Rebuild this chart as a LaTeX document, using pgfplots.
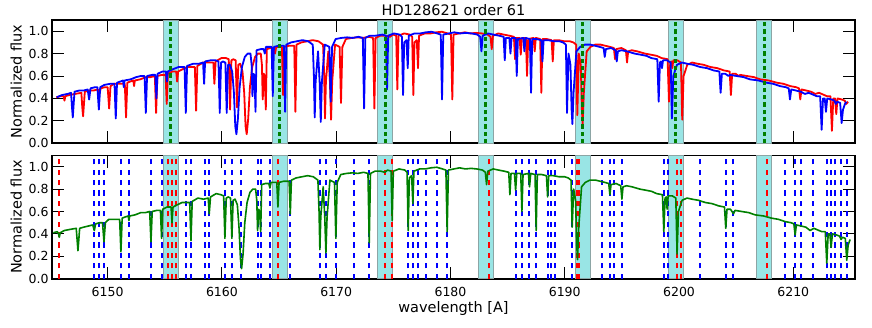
\documentclass[border=0pt]{standalone}
\usepackage{pgfplots}
\pgfplotsset{compat=1.18}
\usepackage{pgfplotstable}
\usepackage{fontspec}
\setmainfont{DejaVu Sans}

\definecolor{mblue}{RGB}{0,0,255}
\definecolor{mred}{RGB}{255,0,0}
\definecolor{mgreen}{RGB}{0,128,0}
\definecolor{band}{RGB}{153,229,229}
\definecolor{bandedge}{RGB}{140,165,165}

% spectrum, first observation (blue)
\pgfplotstableread{
x y
6145.55 0.41
6146.00 0.43
6146.50 0.44
6146.80 0.45
6146.88 0.32
6146.95 0.23
6147.02 0.34
6147.10 0.46
6147.50 0.47
6147.90 0.47
6148.25 0.48
6148.38 0.39
6148.50 0.49
6148.90 0.50
6149.10 0.50
6149.23 0.30
6149.35 0.50
6149.70 0.52
6150.20 0.53
6150.60 0.53
6150.71 0.22
6150.82 0.54
6151.10 0.55
6151.35 0.56
6151.41 0.50
6151.48 0.56
6152.00 0.57
6152.50 0.59
6152.90 0.60
6153.23 0.60
6153.34 0.27
6153.45 0.60
6153.90 0.61
6154.17 0.61
6154.27 0.40
6154.37 0.62
6154.80 0.64
6155.10 0.64
6155.18 0.55
6155.26 0.64
6155.70 0.66
6156.20 0.68
6156.73 0.68
6156.84 0.27
6156.95 0.69
6157.50 0.71
6158.00 0.71
6158.35 0.72
6158.44 0.53
6158.53 0.73
6159.00 0.74
6159.45 0.74
6159.70 0.73
6159.81 0.27
6159.92 0.72
6160.10 0.73
6160.30 0.72
6160.42 0.27
6160.53 0.70
6160.70 0.70
6160.90 0.64
6161.05 0.45
6161.17 0.15
6161.27 0.08
6161.40 0.22
6161.55 0.50
6161.75 0.68
6162.00 0.77
6162.25 0.80
6162.50 0.80
6162.60 0.70
6162.67 0.42
6162.77 0.62
6162.85 0.60
6162.94 0.28
6163.03 0.83
6163.40 0.84
6163.65 0.84
6163.75 0.80
6163.85 0.86
6164.35 0.86
6164.45 0.42
6164.55 0.86
6164.95 0.87
6165.43 0.87
6165.53 0.28
6165.63 0.88
6166.05 0.90
6166.55 0.91
6167.05 0.92
6167.55 0.91
6167.95 0.88
6168.05 0.60
6168.12 0.23
6168.20 0.55
6168.41 0.82
6168.55 0.55
6168.65 0.19
6168.75 0.55
6169.00 0.88
6169.40 0.86
6169.52 0.37
6169.64 0.86
6169.95 0.93
6170.45 0.94
6170.95 0.945
6171.45 0.94
6171.95 0.95
6172.33 0.94
6172.44 0.31
6172.55 0.94
6172.95 0.96
6173.45 0.96
6174.05 0.97
6174.35 0.96
6174.45 0.48
6174.55 0.96
6175.05 0.98
6175.55 0.97
6175.75 0.95
6175.85 0.43
6175.95 0.90
6176.15 0.92
6176.26 0.67
6176.35 0.96
6176.85 0.98
6177.35 0.98
6177.85 0.99
6178.35 0.995
6178.85 0.98
6179.15 0.97
6179.26 0.39
6179.37 0.97
6179.85 0.98
6180.35 0.99
6180.85 0.98
6181.35 0.985
6181.85 0.98
6182.35 0.97
6182.60 0.95
6182.71 0.82
6182.82 0.96
6183.29 0.98
6183.75 0.97
6184.25 0.96
6184.65 0.95
6184.75 0.74
6184.85 0.94
6185.15 0.94
6185.25 0.80
6185.35 0.94
6185.70 0.94
6185.80 0.60
6185.90 0.93
6186.37 0.94
6186.47 0.82
6186.57 0.94
6186.95 0.93
6187.05 0.45
6187.15 0.93
6187.52 0.93
6187.95 0.92
6188.05 0.73
6188.15 0.92
6188.55 0.92
6189.05 0.91
6189.55 0.91
6189.85 0.90
6190.10 0.88
6190.20 0.27
6190.33 0.80
6190.50 0.70
6190.60 0.30
6190.67 0.17
6190.77 0.45
6191.02 0.82
6191.35 0.86
6191.75 0.88
6192.25 0.88
6192.65 0.87
6193.05 0.86
6193.40 0.85
6193.50 0.77
6193.60 0.84
6194.05 0.85
6194.45 0.83
6194.55 0.73
6194.65 0.82
6194.96 0.83
6195.45 0.82
6196.12 0.80
6196.65 0.79
6197.15 0.78
6197.58 0.76
6198.10 0.75
6198.22 0.37
6198.33 0.72
6198.43 0.73
6198.51 0.67
6198.60 0.74
6198.95 0.74
6199.27 0.72
6199.38 0.22
6199.50 0.60
6199.82 0.70
6200.25 0.72
6200.69 0.71
6201.25 0.70
6201.86 0.68
6202.45 0.67
6203.02 0.65
6203.53 0.64
6203.64 0.45
6203.75 0.62
6204.05 0.62
6204.32 0.60
6204.45 0.61
6205.04 0.60
6205.65 0.59
6206.21 0.57
6206.95 0.56
6207.67 0.54
6208.25 0.53
6208.83 0.51
6209.35 0.50
6209.60 0.49
6209.71 0.39
6209.82 0.48
6210.25 0.47
6210.65 0.46
6211.02 0.44
6211.35 0.45
6212.04 0.42
6212.35 0.42
6212.48 0.12
6212.60 0.40
6212.75 0.40
6212.86 0.28
6212.97 0.40
6213.35 0.39
6213.60 0.38
6213.73 0.35
6213.85 0.37
6214.10 0.36
6214.23 0.18
6214.35 0.30
6214.52 0.35
6214.65 0.37
}\tblue

% spectrum, second observation (red)
\pgfplotstableread{
x y
6145.50 0.41
6145.90 0.42
6146.15 0.42
6146.22 0.38
6146.30 0.42
6146.65 0.43
6147.15 0.44
6147.70 0.45
6147.78 0.32
6147.85 0.24
6147.92 0.34
6148.00 0.46
6148.35 0.47
6148.75 0.47
6149.15 0.48
6149.28 0.44
6149.40 0.49
6149.75 0.50
6150.00 0.50
6150.13 0.31
6150.25 0.51
6150.55 0.53
6151.05 0.53
6151.50 0.53
6151.61 0.23
6151.72 0.54
6151.95 0.55
6152.25 0.56
6152.31 0.51
6152.38 0.56
6152.85 0.57
6153.35 0.59
6153.75 0.59
6154.13 0.60
6154.24 0.27
6154.35 0.60
6154.75 0.61
6155.07 0.61
6155.17 0.35
6155.27 0.62
6155.65 0.64
6156.00 0.64
6156.08 0.55
6156.17 0.64
6156.55 0.66
6156.95 0.68
6157.35 0.68
6157.63 0.68
6157.74 0.29
6157.85 0.69
6158.35 0.72
6158.85 0.72
6159.25 0.72
6159.34 0.53
6159.45 0.73
6159.95 0.76
6160.35 0.76
6160.60 0.75
6160.71 0.30
6160.83 0.74
6161.00 0.75
6161.20 0.74
6161.32 0.32
6161.43 0.70
6161.60 0.71
6161.80 0.64
6161.95 0.45
6162.07 0.15
6162.17 0.08
6162.30 0.22
6162.45 0.50
6162.65 0.68
6162.90 0.77
6163.15 0.80
6163.40 0.80
6163.50 0.70
6163.57 0.39
6163.67 0.62
6163.75 0.60
6163.84 0.30
6163.93 0.84
6164.25 0.85
6164.55 0.85
6164.65 0.80
6164.75 0.86
6165.25 0.86
6165.35 0.43
6165.45 0.86
6165.85 0.87
6166.33 0.87
6166.43 0.28
6166.53 0.88
6166.95 0.90
6167.45 0.91
6167.95 0.92
6168.45 0.91
6168.85 0.88
6168.95 0.60
6169.02 0.22
6169.10 0.55
6169.31 0.82
6169.45 0.55
6169.55 0.21
6169.65 0.55
6169.90 0.88
6170.30 0.86
6170.42 0.36
6170.54 0.86
6170.85 0.93
6171.35 0.94
6171.85 0.945
6172.35 0.94
6172.85 0.95
6173.23 0.94
6173.34 0.31
6173.45 0.94
6173.85 0.96
6174.35 0.96
6174.71 0.95
6174.95 0.97
6175.25 0.96
6175.35 0.48
6175.45 0.96
6175.95 0.98
6176.45 0.97
6176.65 0.95
6176.75 0.43
6176.85 0.90
6177.05 0.92
6177.16 0.67
6177.25 0.96
6177.75 0.98
6178.25 0.98
6178.75 0.99
6179.25 0.995
6179.75 0.98
6180.05 0.97
6180.16 0.39
6180.27 0.97
6180.75 0.98
6181.25 0.99
6181.75 0.98
6182.25 0.985
6182.75 0.98
6183.25 0.97
6183.50 0.95
6183.61 0.84
6183.72 0.96
6184.19 0.98
6184.65 0.97
6185.15 0.96
6185.55 0.95
6185.65 0.75
6185.75 0.94
6186.05 0.94
6186.15 0.79
6186.25 0.94
6186.60 0.94
6186.70 0.60
6186.80 0.93
6187.27 0.94
6187.37 0.82
6187.47 0.94
6187.85 0.93
6187.95 0.45
6188.05 0.93
6188.42 0.93
6188.85 0.92
6188.95 0.73
6189.05 0.92
6189.45 0.92
6189.95 0.91
6190.45 0.91
6190.75 0.90
6191.00 0.88
6191.10 0.25
6191.23 0.80
6191.40 0.70
6191.50 0.30
6191.57 0.16
6191.67 0.45
6191.92 0.82
6192.25 0.86
6192.65 0.88
6193.15 0.88
6193.55 0.87
6193.95 0.86
6194.30 0.85
6194.40 0.75
6194.50 0.84
6194.95 0.85
6195.35 0.83
6195.45 0.72
6195.55 0.82
6195.86 0.83
6196.35 0.82
6197.02 0.80
6197.55 0.79
6198.05 0.78
6198.48 0.76
6199.00 0.75
6199.12 0.37
6199.23 0.72
6199.33 0.73
6199.41 0.67
6199.50 0.74
6199.85 0.74
6200.17 0.72
6200.28 0.21
6200.40 0.60
6200.72 0.70
6201.15 0.72
6201.59 0.71
6202.15 0.70
6202.76 0.68
6203.35 0.67
6203.92 0.65
6204.43 0.64
6204.54 0.43
6204.65 0.62
6204.95 0.62
6205.22 0.60
6205.35 0.61
6205.94 0.60
6206.55 0.59
6207.11 0.57
6207.85 0.56
6208.57 0.54
6209.15 0.53
6209.73 0.51
6210.25 0.50
6210.50 0.49
6210.61 0.39
6210.72 0.48
6211.15 0.47
6211.55 0.46
6211.92 0.44
6212.25 0.45
6212.94 0.42
6213.25 0.42
6213.38 0.11
6213.50 0.40
6213.65 0.40
6213.76 0.26
6213.87 0.40
6214.25 0.39
6214.50 0.38
6214.63 0.35
6214.80 0.37
}\tred

% corrected spectrum (green)
\pgfplotstableread{
x y
6145.25 0.41
6145.60 0.42
6145.70 0.40
6145.77 0.37
6145.85 0.41
6146.20 0.43
6146.70 0.44
6147.25 0.45
6147.35 0.32
6147.40 0.25
6147.47 0.34
6147.55 0.45
6147.90 0.46
6148.30 0.47
6148.70 0.48
6148.83 0.43
6148.95 0.49
6149.30 0.50
6149.55 0.50
6149.68 0.33
6149.80 0.50
6150.10 0.53
6150.60 0.53
6151.05 0.53
6151.16 0.24
6151.27 0.54
6151.50 0.55
6151.80 0.56
6151.86 0.52
6151.93 0.56
6152.40 0.57
6152.90 0.59
6153.30 0.59
6153.68 0.60
6153.79 0.33
6153.90 0.60
6154.30 0.61
6154.62 0.61
6154.72 0.36
6154.82 0.62
6155.20 0.64
6155.55 0.64
6155.63 0.50
6155.72 0.64
6156.10 0.66
6156.50 0.68
6156.90 0.68
6157.18 0.68
6157.29 0.34
6157.40 0.69
6157.90 0.72
6158.40 0.71
6158.80 0.72
6158.89 0.58
6159.00 0.73
6159.50 0.76
6159.90 0.75
6160.15 0.74
6160.26 0.36
6160.38 0.72
6160.55 0.73
6160.75 0.72
6160.87 0.36
6160.98 0.70
6161.15 0.71
6161.35 0.66
6161.50 0.45
6161.62 0.18
6161.72 0.09
6161.85 0.22
6162.00 0.50
6162.20 0.68
6162.45 0.77
6162.70 0.80
6162.95 0.80
6163.05 0.70
6163.12 0.43
6163.22 0.62
6163.30 0.60
6163.39 0.42
6163.48 0.84
6163.80 0.85
6164.10 0.85
6164.20 0.81
6164.30 0.86
6164.80 0.86
6164.90 0.64
6165.00 0.86
6165.40 0.87
6165.88 0.87
6165.98 0.58
6166.08 0.88
6166.50 0.90
6167.00 0.91
6167.50 0.92
6168.00 0.91
6168.40 0.88
6168.50 0.60
6168.57 0.26
6168.65 0.55
6168.86 0.82
6169.00 0.55
6169.10 0.23
6169.20 0.55
6169.45 0.88
6169.85 0.86
6169.97 0.36
6170.09 0.86
6170.40 0.93
6170.90 0.94
6171.40 0.945
6171.90 0.94
6172.40 0.95
6172.78 0.94
6172.89 0.32
6173.00 0.94
6173.40 0.96
6173.90 0.96
6174.26 0.95
6174.50 0.97
6174.80 0.96
6174.90 0.52
6175.00 0.96
6175.50 0.98
6176.00 0.97
6176.20 0.95
6176.30 0.43
6176.40 0.90
6176.60 0.92
6176.71 0.67
6176.80 0.96
6177.30 0.98
6177.80 0.98
6178.30 0.99
6178.80 0.995
6179.30 0.98
6179.60 0.97
6179.71 0.42
6179.82 0.97
6180.30 0.98
6180.80 0.99
6181.30 0.98
6181.80 0.985
6182.30 0.98
6182.80 0.97
6183.05 0.95
6183.16 0.84
6183.27 0.96
6183.74 0.98
6184.20 0.97
6184.70 0.96
6185.10 0.95
6185.20 0.75
6185.30 0.94
6185.60 0.94
6185.70 0.79
6185.80 0.94
6186.15 0.94
6186.25 0.60
6186.35 0.93
6186.82 0.94
6186.92 0.82
6187.02 0.94
6187.40 0.93
6187.50 0.43
6187.60 0.93
6187.97 0.93
6188.40 0.92
6188.50 0.73
6188.60 0.92
6189.00 0.92
6189.50 0.91
6190.00 0.91
6190.30 0.90
6190.55 0.88
6190.65 0.46
6190.78 0.80
6190.95 0.70
6191.05 0.30
6191.12 0.17
6191.22 0.45
6191.47 0.82
6191.80 0.86
6192.20 0.88
6192.70 0.88
6193.10 0.87
6193.50 0.86
6193.85 0.85
6193.95 0.75
6194.05 0.84
6194.50 0.85
6194.90 0.83
6195.00 0.71
6195.10 0.82
6195.41 0.83
6195.90 0.82
6196.57 0.80
6197.10 0.79
6197.60 0.78
6198.03 0.76
6198.55 0.75
6198.67 0.42
6198.78 0.72
6198.88 0.73
6198.96 0.62
6199.05 0.74
6199.40 0.74
6199.72 0.72
6199.83 0.22
6199.95 0.60
6200.27 0.70
6200.70 0.72
6201.14 0.71
6201.70 0.70
6202.31 0.68
6202.90 0.67
6203.47 0.65
6203.98 0.64
6204.09 0.45
6204.20 0.62
6204.50 0.62
6204.77 0.58
6204.90 0.61
6205.49 0.60
6206.10 0.59
6206.66 0.57
6207.40 0.56
6208.12 0.54
6208.70 0.53
6209.28 0.51
6209.80 0.50
6210.05 0.49
6210.16 0.39
6210.27 0.48
6210.70 0.47
6211.10 0.46
6211.47 0.43
6211.80 0.45
6212.49 0.42
6212.80 0.42
6212.93 0.14
6213.05 0.40
6213.20 0.40
6213.31 0.28
6213.42 0.40
6213.80 0.39
6214.05 0.38
6214.18 0.35
6214.30 0.37
6214.55 0.36
6214.68 0.165
6214.80 0.30
6214.97 0.35
}\tgreen

\pgfplotsset{
  specax/.style={
    scale only axis, width=803bp, height=123.2bp,
    xmin=6145.13, xmax=6215.4, ymin=0, ymax=1.1,
    xtick={6150,6160,6170,6180,6190,6200,6210},
    ytick={0,0.2,0.4,0.6,0.8,1.0},
    tick align=inside, major tick length=12bp,
    tick style={black, line width=0.9bp},
    axis line style={black, line width=1.6bp},
    every tick label/.append style={font=\fontsize{12.5bp}{15bp}\selectfont},
    /pgf/number format/assume math mode=true,
    /pgf/number format/1000 sep={},
    yticklabel style={/pgf/number format/.cd, fixed, fixed zerofill, precision=1, assume math mode=true},
    xticklabel style={anchor=base, yshift=-17.5bp},
    ylabel={Normalized flux},
    ylabel style={at={(axis description cs:-0.0377,0.5)}, anchor=base},
    label style={font=\fontsize{14.5bp}{17bp}\selectfont},
    every axis title shift=0pt,
  },
  bandfill/.style={fill=band, draw=bandedge, line width=0.8bp},
}

\begin{document}
\begin{tikzpicture}
\useasboundingbox (0bp,0bp) rectangle (872bp,-328bp);

% upper panel: the two observations
\begin{axis}[specax, at={(52bp,-20bp)}, anchor=north west,
  xticklabels={},
  title={HD128621 order 61},
  title style={at={(axis description cs:0.5,1)}, anchor=base, yshift=5bp,
    font=\fontsize{14.5bp}{17bp}\selectfont},
]
\addplot[bandfill] coordinates {(6154.89,1.1) (6156.19,1.1)} \closedcycle;
\addplot[bandfill] coordinates {(6164.42,1.1) (6165.72,1.1)} \closedcycle;
\addplot[bandfill] coordinates {(6173.64,1.1) (6174.94,1.1)} \closedcycle;
\addplot[bandfill] coordinates {(6182.45,1.1) (6183.75,1.1)} \closedcycle;
\addplot[bandfill] coordinates {(6190.91,1.1) (6192.21,1.1)} \closedcycle;
\addplot[bandfill] coordinates {(6199.07,1.1) (6200.37,1.1)} \closedcycle;
\addplot[bandfill] coordinates {(6206.79,1.1) (6208.09,1.1)} \closedcycle;
\addplot[mred, line width=1.8bp, line join=round] table {\tred};
\addplot[mblue, line width=1.8bp, line join=round] table {\tblue};
\addplot[mgreen, ycomb, line width=3bp, dash pattern=on 4.3bp off 3bp] coordinates {
  (6155.54,1.1) (6165.07,1.1) (6174.29,1.1) (6183.10,1.1)
  (6191.56,1.1) (6199.72,1.1) (6207.44,1.1)};
\end{axis}

% lower panel: corrected spectrum with line list
\begin{axis}[specax, at={(52bp,-155.5bp)}, anchor=north west,
  xlabel={wavelength [A]},
  xlabel style={at={(axis description cs:0.5,0)}, anchor=base, yshift=-34bp},
]
\addplot[bandfill] coordinates {(6154.89,1.1) (6156.19,1.1)} \closedcycle;
\addplot[bandfill] coordinates {(6164.42,1.1) (6165.72,1.1)} \closedcycle;
\addplot[bandfill] coordinates {(6173.64,1.1) (6174.94,1.1)} \closedcycle;
\addplot[bandfill] coordinates {(6182.45,1.1) (6183.75,1.1)} \closedcycle;
\addplot[bandfill] coordinates {(6190.91,1.1) (6192.21,1.1)} \closedcycle;
\addplot[bandfill] coordinates {(6199.07,1.1) (6200.37,1.1)} \closedcycle;
\addplot[bandfill] coordinates {(6206.79,1.1) (6208.09,1.1)} \closedcycle;
\addplot[mblue, ycomb, line width=2bp, dash pattern=on 5.2bp off 5.2bp] coordinates {
  (6148.83,1.1) (6149.27,1.1) (6149.68,1.1) (6151.16,1.1) (6151.86,1.1)
  (6153.79,1.1) (6154.72,1.1) (6156.88,1.1) (6157.29,1.1) (6158.53,1.1)
  (6158.91,1.1) (6160.27,1.1) (6160.86,1.1) (6161.71,1.1) (6163.15,1.1)
  (6163.39,1.1) (6164.20,1.1) (6165.97,1.1) (6168.60,1.1) (6169.09,1.1)
  (6169.96,1.1) (6171.58,1.1) (6172.89,1.1) (6176.30,1.1) (6176.72,1.1)
  (6177.12,1.1) (6177.90,1.1) (6178.82,1.1) (6179.69,1.1) (6185.70,1.1)
  (6186.26,1.1) (6186.89,1.1) (6187.51,1.1) (6188.52,1.1) (6188.83,1.1)
  (6189.16,1.1) (6190.66,1.1) (6193.24,1.1) (6193.95,1.1) (6194.32,1.1)
  (6194.98,1.1) (6198.68,1.1) (6199.00,1.1) (6201.82,1.1) (6204.08,1.1)
  (6204.75,1.1) (6209.24,1.1) (6210.15,1.1) (6210.67,1.1) (6211.72,1.1)
  (6212.92,1.1) (6213.29,1.1) (6213.65,1.1) (6214.16,1.1) (6214.67,1.1)};
\addplot[mred, ycomb, line width=2bp, dash pattern=on 5.2bp off 5.2bp] coordinates {
  (6145.77,1.1) (6155.28,1.1) (6155.62,1.1) (6155.95,1.1) (6164.92,1.1)
  (6174.28,1.1) (6174.88,1.1) (6183.38,1.1) (6191.10,1.1) (6191.29,1.1)
  (6199.81,1.1) (6200.13,1.1) (6207.73,1.1)};
\addplot[mgreen, line width=1.6bp, line join=round] table {\tgreen};
\end{axis}
\end{tikzpicture}
\end{document}
